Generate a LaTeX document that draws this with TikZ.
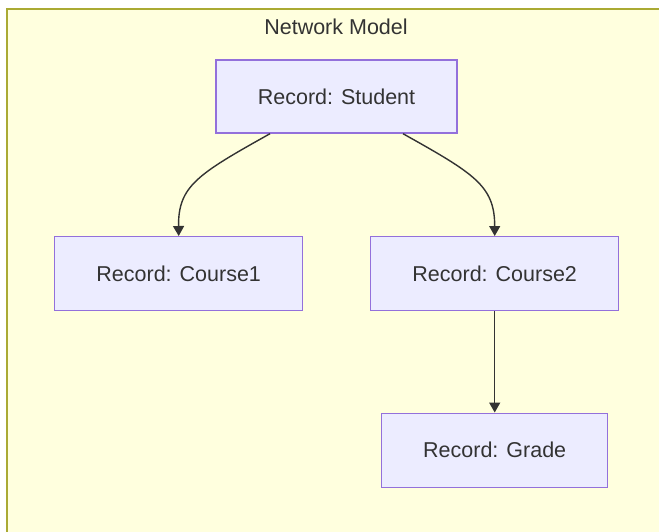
\documentclass[tikz,border=0pt]{standalone}
\usepackage{fontspec}
\setmainfont{Liberation Sans}
\usetikzlibrary{arrows.meta}
\definecolor{clusterfill}{HTML}{FFFFDE}
\definecolor{clusterline}{HTML}{AAAA33}
\definecolor{recfill}{HTML}{ECECFF}
\definecolor{recline}{HTML}{9370DB}
\definecolor{inkgray}{HTML}{333333}
\tikzset{every picture/.style={line width=1pt},
  record/.style={draw=recline,fill=recfill,line width=1.4pt,inner sep=0pt,
    text=inkgray,font=\fontsize{21.5}{25}\selectfont},
  link/.style={draw=inkgray,line width=1.4pt,-{Triangle[length=10pt,width=11pt]}}}

\begin{document}
\begin{tikzpicture}[x=1pt,y=1pt,yscale=-1,xscale=1]
\useasboundingbox (0,0) rectangle (659,532);

%Shape: Rectangle [id:cluster]
\draw [draw=clusterline,fill=clusterfill,line width=1.4pt] (7,9) rectangle (675,545) ;

% Text Node
\draw (336,27) node [text=inkgray,font=\fontsize{21.5}{25}\selectfont] (title) {Network Model};

% Record Nodes
\draw (336.5,96.5) node [record,minimum width=241pt,minimum height=73pt] (student) {Record: Student};
\draw (178.7,273.7) node [record,minimum width=248pt,minimum height=74pt] (course1) {Record: Course1};
\draw (494.7,273.7) node [record,minimum width=248pt,minimum height=74pt] (course2) {Record: Course2};
\draw (494.7,450.2) node [record,minimum width=226pt,minimum height=74pt] (grade) {Record: Grade};

%Curve Lines
\draw [link] ([xshift=-66.5pt]student.south) .. controls (198,174) and (178,186) .. (course1.north) ;
\draw [link] ([xshift=66.5pt]student.south) .. controls (475,174) and (494.7,186) .. (course2.north) ;
%Straight Lines
\draw [link] (course2.south) -- (grade.north) ;

\end{tikzpicture}
\end{document}
